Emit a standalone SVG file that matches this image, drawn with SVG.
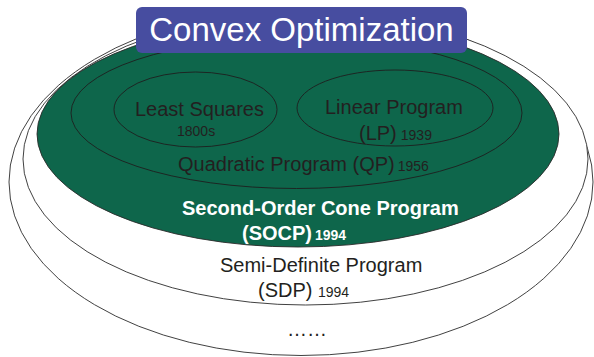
<svg xmlns="http://www.w3.org/2000/svg" width="594" height="357" viewBox="0 0 594 357">
<style>
.ring{fill:#ffffff;stroke:#2b2b2b;stroke-width:0.9}
.green{fill:#0e664b;stroke:#2b2b2b;stroke-width:0.9}
.inner{fill:none;stroke:#1e1e1e;stroke-width:0.9}
.t{font-family:"Liberation Sans",Arial,Helvetica,sans-serif;fill:#231f20}
.big{font-size:20px}
.small{font-size:14px}
.w{fill:#ffffff;font-weight:bold}
</style>
<rect width="594" height="357" fill="#ffffff"/>
<g id="outer">
<ellipse class="ring" cx="301" cy="182" rx="292" ry="173.5"/>
<text class="t big" x="287" y="336">……</text>
</g>
<g id="sdp">
<ellipse class="ring" cx="305.5" cy="159" rx="282.5" ry="146"/>
<text class="t big" x="220" y="272">Semi-Definite Program</text>
<text class="t big" x="258" y="297">(SDP) <tspan class="small">1994</tspan></text>
</g>
<g id="socp">
<ellipse class="green" cx="298" cy="134" rx="261" ry="113"/>
<text class="t big w" x="182" y="215">Second-Order Cone Program</text>
<text class="t big w" x="242" y="240">(SOCP)<tspan class="small" dx="3">1994</tspan></text>
</g>
<g id="qp">
<ellipse class="inner" cx="296.5" cy="113" rx="225.5" ry="75.5"/>
<text class="t big" x="178" y="171">Quadratic Program (QP)<tspan class="small" dx="3">1956</tspan></text>
</g>
<g id="ls">
<ellipse class="inner" cx="195.5" cy="109.5" rx="81.5" ry="37.5"/>
<text class="t big" x="135" y="116">Least Squares</text>
<text class="t small" x="177" y="136">1800s</text>
</g>
<g id="lp">
<ellipse class="inner" cx="395" cy="108" rx="98" ry="38"/>
<text class="t big" x="325" y="114">Linear Program</text>
<text class="t big" x="359" y="140">(LP)<tspan class="small" dx="4">1939</tspan></text>
</g>
<g id="title">
<rect x="136" y="7" width="331" height="46" rx="6" ry="6" fill="#474da0"/>
<text class="t" x="301.5" y="41" text-anchor="middle" font-size="33" style="fill:#ffffff">Convex Optimization</text>
</g>
<g id="connectors"></g>
</svg>
